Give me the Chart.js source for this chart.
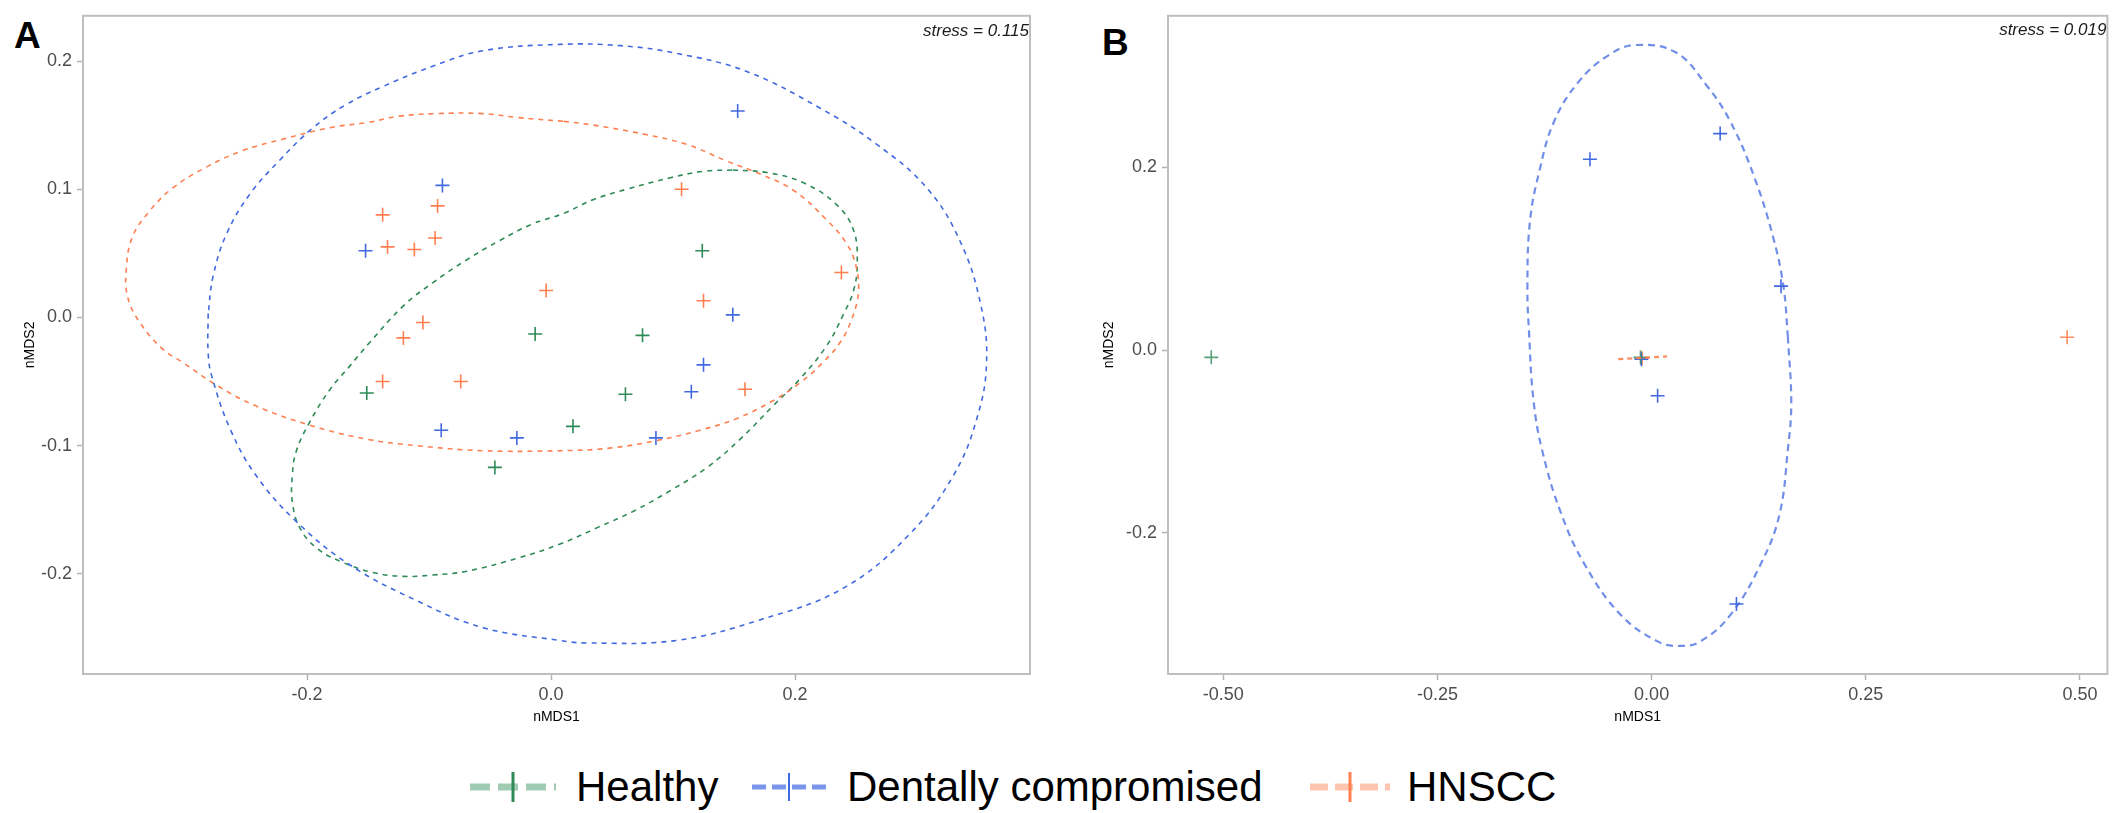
<!DOCTYPE html>
<html>
<head>
<meta charset="utf-8">
<script src="https://cdn.jsdelivr.net/npm/chart.js@4.4.1/dist/chart.umd.min.js"></script>
<style>
  body { margin: 0; background: #fff; width: 2116px; height: 813px; position: relative; overflow: hidden;
         font-family: "Liberation Sans", Arial, sans-serif; }
  canvas { position: absolute; top: 0; }
  .tag { position: absolute; font-weight: bold; font-size: 37px; line-height: 37px; color: #000; }
  .key { position: absolute; top: 767px; }
  .lab { position: absolute; top: 766px; font-size: 42px; line-height: 42px; color: #000; white-space: nowrap; }
</style>
</head>
<body>
<div class="tag" style="left:14px;top:17px">A</div>
<div class="tag" style="left:1102px;top:24px">B</div>
<canvas id="chartA" width="1040" height="740" style="left:0px"></canvas>
<canvas id="chartB" width="1036" height="740" style="left:1080px"></canvas>

<svg class="key" style="left:470px" width="86" height="40">
  <line x1="0" y1="20" x2="86" y2="20" stroke="rgba(46,139,87,0.45)" stroke-width="7" stroke-dasharray="20 8"/>
  <line x1="43" y1="5" x2="43" y2="35" stroke="#2e8b57" stroke-width="3"/>
</svg>
<div class="lab" style="left:576px">Healthy</div>
<svg class="key" style="left:752px" width="74" height="40">
  <line x1="0" y1="20" x2="74" y2="20" stroke="rgba(65,105,225,0.7)" stroke-width="5" stroke-dasharray="14 6"/>
  <line x1="37" y1="6" x2="37" y2="34" stroke="#4169e1" stroke-width="2"/>
</svg>
<div class="lab" style="left:847px">Dentally compromised</div>
<svg class="key" style="left:1310px" width="80" height="40">
  <line x1="0" y1="20" x2="80" y2="20" stroke="rgba(255,127,80,0.45)" stroke-width="7" stroke-dasharray="18 7"/>
  <line x1="40" y1="5" x2="40" y2="35" stroke="#ff7f50" stroke-width="3"/>
</svg>
<div class="lab" style="left:1407px">HNSCC</div>

<script>
// ---- Panel A : nMDS coordinates ----
const healthyA_x = [-0.013, 0.124, 0.075, -0.151, -0.046, 0.061, 0.018];
const healthyA_y = [-0.013, 0.052, -0.014, -0.059, -0.117, -0.060, -0.085];
const dentalA_x = [-0.089, -0.152, 0.153, 0.149, -0.090, -0.028, 0.125, 0.115, 0.086];
const dentalA_y = [0.103, 0.052, 0.161, 0.002, -0.088, -0.094, -0.037, -0.058, -0.094];
const hnsccA_x = [-0.093, -0.138, -0.095, -0.134, -0.112, -0.004, -0.105, -0.121, 0.107, 0.238, 0.125, -0.138, -0.074, 0.159];
const hnsccA_y = [0.087, 0.080, 0.062, 0.055, 0.053, 0.021, -0.004, -0.016, 0.100, 0.035, 0.013, -0.050, -0.050, -0.056];

// ellipse outlines
const healthyEllA_x = [0.149,0.177,0.207,0.234,0.248,0.251,0.248,0.240,0.226,0.204,0.182,0.155,0.128,0.098,0.068,0.038,0.007,-0.028,-0.069,-0.097,-0.121,-0.146,-0.171,-0.192,-0.206,-0.212,-0.212,-0.209,-0.198,-0.181,-0.165,-0.149,-0.121,-0.097,-0.069,-0.042,-0.015,0.010,0.035,0.062,0.098,0.125,0.149];
const healthyEllA_y = [0.115,0.113,0.105,0.088,0.068,0.042,0.021,0.003,-0.022,-0.048,-0.069,-0.095,-0.117,-0.135,-0.151,-0.164,-0.177,-0.188,-0.198,-0.201,-0.202,-0.199,-0.191,-0.180,-0.164,-0.144,-0.123,-0.105,-0.082,-0.056,-0.038,-0.020,0.009,0.027,0.045,0.060,0.073,0.081,0.092,0.100,0.109,0.114,0.115];
const dentalEllA_x = [-0.281,-0.281,-0.278,-0.263,-0.242,-0.209,-0.165,-0.110,-0.056,0.007,0.029,0.103,0.171,0.240,0.294,0.330,0.349,0.357,0.352,0.335,0.308,0.267,0.221,0.160,0.103,0.057,0.007,-0.056,-0.097,-0.138,-0.168,-0.195,-0.222,-0.247,-0.266,-0.277,-0.281];
const dentalEllA_y = [0.003,-0.028,-0.046,-0.087,-0.123,-0.159,-0.193,-0.221,-0.242,-0.252,-0.254,-0.252,-0.236,-0.211,-0.169,-0.123,-0.079,-0.035,0.011,0.060,0.101,0.135,0.163,0.192,0.206,0.212,0.213,0.208,0.196,0.180,0.166,0.148,0.123,0.096,0.065,0.032,0.003];
const hnsccEllA_x = [0.010,-0.028,-0.056,-0.094,-0.124,-0.151,-0.181,-0.220,-0.253,-0.283,-0.310,-0.329,-0.343,-0.348,-0.347,-0.337,-0.318,-0.302,-0.274,-0.242,-0.198,-0.151,-0.110,-0.056,0.007,0.048,0.087,0.122,0.152,0.182,0.204,0.223,0.238,0.247,0.252,0.250,0.242,0.226,0.199,0.171,0.144,0.111,0.076,0.035,0.010];
const hnsccEllA_y = [0.153,0.156,0.159,0.159,0.157,0.152,0.148,0.139,0.130,0.117,0.101,0.083,0.063,0.039,0.016,-0.004,-0.025,-0.035,-0.053,-0.069,-0.084,-0.095,-0.100,-0.104,-0.104,-0.102,-0.096,-0.088,-0.079,-0.065,-0.051,-0.035,-0.018,0.000,0.020,0.040,0.058,0.076,0.099,0.112,0.122,0.135,0.143,0.150,0.153];

// ---- Panel B ----
const healthyB_x = [-0.514, -0.013];
const healthyB_y = [-0.008, -0.008];
const dentalB_x = [0.080, -0.072, 0.151, -0.012, 0.007, 0.099];
const dentalB_y = [0.237, 0.209, 0.070, -0.010, -0.050, -0.278];
const hnsccB_x = [0.485, -0.011];
const hnsccB_y = [0.014, -0.009];
const dentalEllB_x = [0.159,0.163,0.159,0.149,0.127,0.092,0.057,0.032,0.007,-0.036,-0.078,-0.106,-0.128,-0.138,-0.143,-0.145,-0.142,-0.131,-0.114,-0.085,-0.050,-0.019,0.028,0.064,0.092,0.120,0.142,0.154,0.159];
const dentalEllB_y = [0.015,-0.058,-0.109,-0.181,-0.235,-0.290,-0.319,-0.324,-0.319,-0.290,-0.235,-0.178,-0.109,-0.054,0.018,0.069,0.141,0.196,0.250,0.294,0.323,0.334,0.326,0.290,0.250,0.189,0.123,0.069,0.015];
const hnsccEllB_x = [-0.039, 0.018];
const hnsccEllB_y = [-0.010, -0.007];

// ticks
const xTicksA = [-0.2, 0.0, 0.2];
const yTicksA = [-0.2, -0.1, 0.0, 0.1, 0.2];
const xTicksB = [-0.50, -0.25, 0.00, 0.25, 0.50];
const yTicksB = [-0.2, 0.0, 0.2];

const stressA = 'stress = 0.115';
const stressB = 'stress = 0.019';

const GREEN = '#2e8b57', BLUE = '#4169e1', ORANGE = '#ff7f50';

function zip(xs, ys) {
  return xs.map((x, i) => ({x: x, y: ys[i]}));
}

function points(xs, ys, color) {
  return {
    data: zip(xs, ys), showLine: false,
    pointStyle: 'cross', pointRadius: 7, pointBorderWidth: 1.6,
    borderColor: color, backgroundColor: color
  };
}

function ellipse(xs, ys, color, width, dash) {
  return {
    data: zip(xs, ys), showLine: true, pointRadius: 0, tension: 0.4,
    borderColor: color, borderWidth: width, borderDash: dash, fill: false
  };
}

// box round the plot + stress label
const framePlugin = {
  id: 'frame',
  afterDraw(chart, args, opts) {
    const {ctx, chartArea: a} = chart;
    ctx.save();
    ctx.strokeStyle = '#bfbfbf';
    ctx.lineWidth = 2;
    ctx.strokeRect(a.left, a.top, a.right - a.left, a.bottom - a.top);
    ctx.font = 'italic 17px "Liberation Sans", Arial, sans-serif';
    ctx.fillStyle = '#1a1a1a';
    ctx.textAlign = 'right';
    ctx.textBaseline = 'middle';
    ctx.fillText(opts.text, a.right - 1, a.top + opts.dy);
    ctx.restore();
  }
};

function axis(min, max, ticks, decimals, size, titlePad, horizontal) {
  return {
    type: 'linear', min: min, max: max,
    afterBuildTicks: s => { s.ticks = ticks.map(v => ({value: v})); },
    afterFit: s => { if (horizontal) s.height = size; else s.width = size; },
    grid: { drawOnChartArea: false, drawTicks: true, tickLength: 6, tickWidth: 1.5, tickColor: '#b3b3b3' },
    border: { display: false },
    ticks: {
      color: '#4d4d4d', padding: horizontal ? 4 : 5,
      font: { family: '"Liberation Sans", Arial, sans-serif', size: 18 },
      callback: v => v.toFixed(decimals)
    },
    title: {
      display: true, text: horizontal ? 'nMDS1' : 'nMDS2', color: '#000',
      font: { family: '"Liberation Sans", Arial, sans-serif', size: 14 },
      padding: horizontal ? {top: 0, bottom: titlePad} : {top: titlePad, bottom: 0}
    }
  };
}

function makeChart(id, datasets, xs, ys, stress, dy, padRight) {
  return new Chart(document.getElementById(id), {
    type: 'scatter',
    data: { datasets: datasets },
    options: {
      responsive: false, animation: false,
      layout: { padding: { top: 10, right: padRight, left: 0, bottom: 0 } },
      plugins: { legend: { display: false }, tooltip: { enabled: false }, frame: { text: stress, dy: dy } },
      scales: { x: xs, y: ys }
    },
    plugins: [framePlugin]
  });
}

makeChart('chartA', [
  ellipse(dentalEllA_x, dentalEllA_y, BLUE, 1.6, [5, 5]),
  ellipse(hnsccEllA_x, hnsccEllA_y, ORANGE, 1.6, [5, 5]),
  ellipse(healthyEllA_x, healthyEllA_y, GREEN, 1.6, [5, 5]),
  points(healthyA_x, healthyA_y, GREEN),
  points(dentalA_x, dentalA_y, BLUE),
  points(hnsccA_x, hnsccA_y, ORANGE)
],
  axis(-0.3836, 0.3926, xTicksA, 1, 66, 14, true),
  axis(-0.2782, 0.2353, yTicksA, 1, 83, 22, false),
  stressA, 15, 10);

makeChart('chartB', [
  ellipse(dentalEllB_x, dentalEllB_y, 'rgba(65,105,225,0.75)', 2.2, [7, 5]),
  ellipse(hnsccEllB_x, hnsccEllB_y, 'rgba(255,127,80,0.9)', 2.2, [5, 4]),
  points(healthyB_x, healthyB_y, 'rgba(46,139,87,0.8)'),
  points(dentalB_x, dentalB_y, BLUE),
  points(hnsccB_x, hnsccB_y, 'rgba(255,127,80,0.9)')
],
  axis(-0.5645, 0.532, xTicksB, 2, 66, 14, true),
  axis(-0.3547, 0.366, yTicksB, 1, 88, 21, false),
  stressB, 14, 4);
</script>
</body>
</html>
